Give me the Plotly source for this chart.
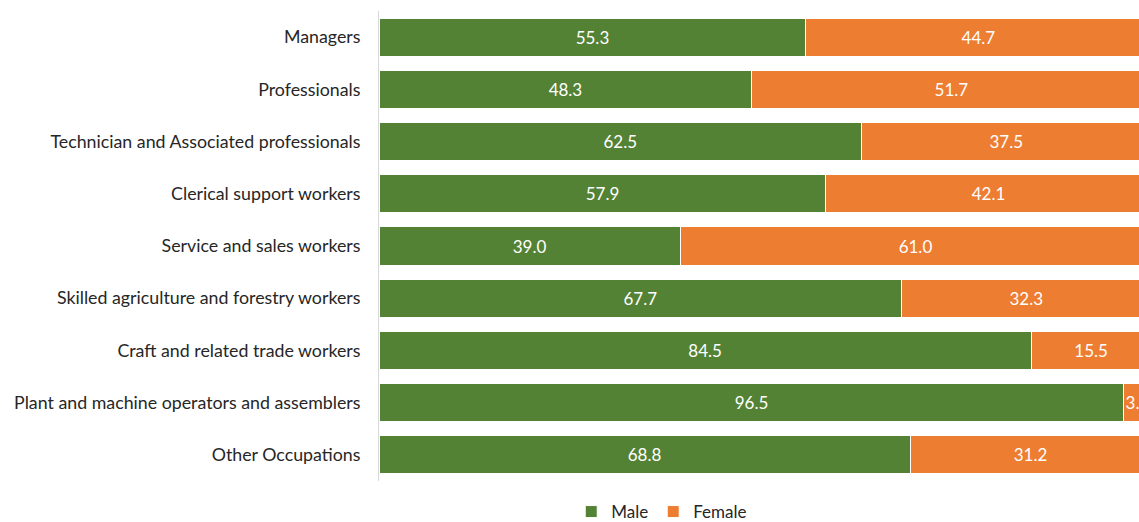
import plotly.graph_objects as go

categories = [
    "Managers",
    "Professionals",
    "Technician and Associated professionals",
    "Clerical support workers",
    "Service and sales workers",
    "Skilled agriculture and forestry workers",
    "Craft and related trade workers",
    "Plant and machine operators and assemblers",
    "Other Occupations",
]
male = [55.3, 48.3, 62.5, 57.9, 39.0, 67.7, 84.5, 96.5, 68.8]
female = [44.7, 51.7, 37.5, 42.1, 61.0, 32.3, 15.5, 3.5, 31.2]

FONT = "Lato, 'Open Sans', sans-serif"

fig = go.Figure()
for name, vals, color in [("Male", male, "#548235"), ("Female", female, "#ED7D31")]:
    fig.add_trace(go.Bar(
        y=categories, x=vals, name=name, orientation="h",
        marker=dict(color=color, line=dict(color="white", width=1)),
        texttemplate="%{x:.1f}", textposition="inside", insidetextanchor="middle",
        textfont=dict(color="white", size=17, family=FONT),
        textangle=0, constraintext="none",
    ))

fig.update_layout(
    barmode="stack",
    bargap=0.27,
    width=1139, height=522,
    margin=dict(l=379, r=0, t=11, b=41),
    paper_bgcolor="white", plot_bgcolor="white",
    font=dict(family=FONT, size=17, color="#262626"),
    legend=dict(orientation="h", x=0.372, xanchor="center",
                yref="container", y=(522 - 512) / 522, yanchor="middle",
                font=dict(size=17, color="#262626"), traceorder="normal",
                itemwidth=30, tracegroupgap=0),
    showlegend=True,
)
fig.update_xaxes(range=[0, 98.45], showticklabels=False, showgrid=False, zeroline=False,
                 showline=False, fixedrange=True)
fig.update_yaxes(autorange="reversed", showgrid=False, showline=True, linecolor="#D9D9D9",
                 linewidth=1, ticks="", ticklabelstandoff=14,
                 tickfont=dict(size=17.8, color="#262626"))

fig.write_html(
    "out.html",
    config={"displayModeBar": False},
    post_script="document.body.style.margin='0';document.body.style.overflow='hidden';",
)
